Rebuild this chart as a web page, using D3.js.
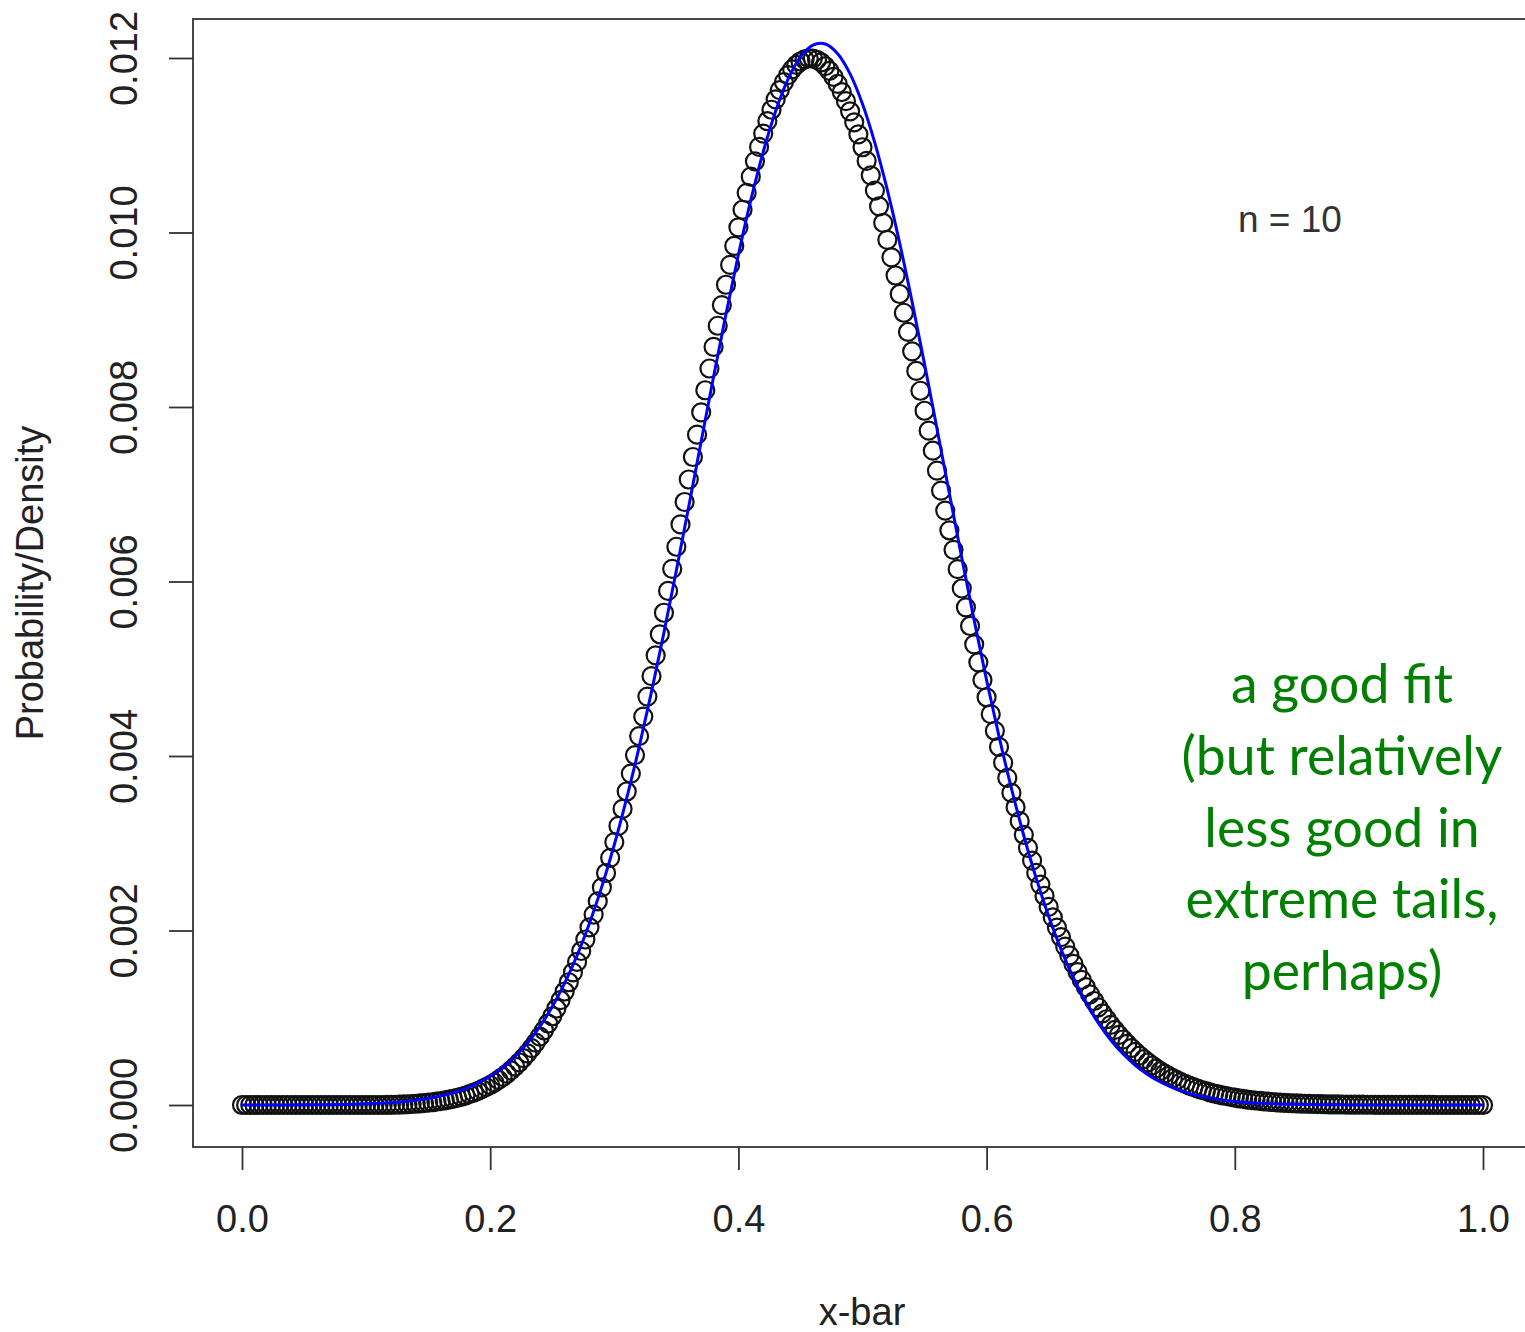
<!DOCTYPE html>
<html>
<head>
<meta charset="utf-8">
<script src="https://cdn.jsdelivr.net/npm/d3@7"></script>
<style>
  html, body { margin: 0; padding: 0; background: #ffffff; }
  svg { display: block; }
</style>
</head>
<body>
<svg id="chart" width="1525" height="1332"></svg>
<script>
// Axis ticks
const xTicks = [0, 0.2, 0.4, 0.6, 0.8, 1.0];
const yTicks = [0, 0.002, 0.004, 0.006, 0.008, 0.010, 0.012];

// Sample means of n = 10 take the values k / 300, k = 0..300
const sampleSize = 10;
const meanGridSteps = 300;

// Exact probability of each possible sample mean (one value per grid point)
const meanProbability = [
  0, 0, 0, 0, 0, 0, 0, 0, 0, 0,
  0, 0, 0, 0, 0, 0, 0, 0, 0, 0,
  0, 0, 0, 0, 0, 0, 0, 0, 0, 0,
  0, 0, 0, 0, 0, 0.0000008, 0.0000018, 0.0000031, 0.0000047, 0.0000065,
  0.0000087, 0.0000113, 0.0000143, 0.0000178, 0.0000218, 0.0000264, 0.0000317, 0.0000377, 0.0000444, 0.0000523,
  0.0000612, 0.0000711, 0.0000821, 0.0000942, 0.000108, 0.000124, 0.000141, 0.000160, 0.000181, 0.000204,
  0.000229, 0.000257, 0.000288, 0.000321, 0.000358, 0.000397, 0.000440, 0.000487, 0.000538, 0.000592,
  0.000651, 0.000715, 0.000783, 0.000856, 0.000934, 0.001017, 0.001106, 0.001201, 0.001301, 0.001407,
  0.001520, 0.001640, 0.001765, 0.001897, 0.002036, 0.002182, 0.002334, 0.002494, 0.002659, 0.002833,
  0.003013, 0.003199, 0.003393, 0.003593, 0.003798, 0.004011, 0.004228, 0.004452, 0.004681, 0.004915,
  0.005153, 0.005395, 0.005642, 0.005892, 0.006144, 0.006398, 0.006654, 0.006911, 0.007169, 0.007427,
  0.007683, 0.007939, 0.008192, 0.008441, 0.008689, 0.008931, 0.009168, 0.009401, 0.009628, 0.009846,
  0.010058, 0.010261, 0.010455, 0.010640, 0.010816, 0.010981, 0.011134, 0.011277, 0.011407, 0.011525,
  0.011631, 0.011723, 0.011803, 0.011869, 0.011921, 0.011960, 0.011985, 0.011997, 0.011994, 0.011979,
  0.011950, 0.011907, 0.011852, 0.011783, 0.011703, 0.011610, 0.011505, 0.011389, 0.011263, 0.011125,
  0.010977, 0.010821, 0.010655, 0.010481, 0.010300, 0.010111, 0.009916, 0.009714, 0.009507, 0.009295,
  0.009080, 0.008860, 0.008638, 0.008413, 0.008186, 0.007957, 0.007729, 0.007499, 0.007270, 0.007041,
  0.006813, 0.006587, 0.006363, 0.006141, 0.005920, 0.005704, 0.005490, 0.005280, 0.005074, 0.004871,
  0.004673, 0.004479, 0.004289, 0.004104, 0.003924, 0.003749, 0.003578, 0.003413, 0.003253, 0.003097,
  0.002947, 0.002801, 0.002661, 0.002526, 0.002396, 0.002270, 0.002150, 0.002033, 0.001923, 0.001816,
  0.001714, 0.001617, 0.001523, 0.001435, 0.001350, 0.001269, 0.001192, 0.001118, 0.001049, 0.000983,
  0.000919, 0.000860, 0.000804, 0.000751, 0.000700, 0.000653, 0.000608, 0.000565, 0.000526, 0.000489,
  0.000453, 0.000420, 0.000389, 0.000360, 0.000333, 0.000308, 0.000284, 0.000262, 0.000242, 0.000223,
  0.000205, 0.000188, 0.000172, 0.000158, 0.000145, 0.000132, 0.000121, 0.000111, 0.000101, 0.0000919,
  0.0000837, 0.0000761, 0.0000691, 0.0000627, 0.0000570, 0.0000515, 0.0000466, 0.0000422, 0.0000380, 0.0000342,
  0.0000309, 0.0000277, 0.0000249, 0.0000223, 0.0000202, 0.0000181, 0.0000162, 0.0000145, 0.0000130, 0.0000116,
  0.0000102, 0.0000093, 0.0000085, 0.0000077, 0.0000070, 0.0000063, 0.0000057, 0.0000051, 0.0000046, 0.0000041,
  0.0000037, 0.0000033, 0.0000029, 0.0000026, 0.0000023, 0.0000020, 0.0000018, 0.0000016, 0.0000014, 0.0000012,
  0.0000010, 0.0000008, 0.0000007, 0.0000006, 0.0000005, 0.0000004, 0.0000004, 0.0000003, 0.0000003, 0.0000002,
  0.0000002, 0.0000001, 0.0000001, 0.0000001, 0.0000001, 0.0000001, 0, 0, 0, 0,
  0
];

// Normal approximation, sampled at x = 0.00, 0.01, ..., 1.00 (scaled to the grid spacing)
const normalGridSteps = 100;
const normalApprox = [
  0.0000002, 0.0000003, 0.0000005, 0.0000008, 0.0000012, 0.0000018, 0.0000027, 0.0000041, 0.0000061, 0.0000090,
  0.0000131, 0.0000189, 0.0000271, 0.0000384, 0.0000538, 0.0000747, 0.0001026, 0.0001394, 0.0001876, 0.0002498,
  0.0003292, 0.000430, 0.000556, 0.000710, 0.000899, 0.001126, 0.001397, 0.001714, 0.002083, 0.002506,
  0.002983, 0.003517, 0.004102, 0.004737, 0.005414, 0.006126, 0.006860, 0.007605, 0.008346, 0.009064,
  0.009745, 0.010370, 0.010925, 0.011391, 0.011757, 0.012012, 0.012148, 0.012160, 0.012049, 0.011818,
  0.011473, 0.011025, 0.010488, 0.009875, 0.009204, 0.008491, 0.007754, 0.007009, 0.006271, 0.005554,
  0.004869, 0.004225, 0.003629, 0.003086, 0.002597, 0.002164, 0.001784, 0.001456, 0.001177, 0.000941,
  0.000745, 0.000584, 0.000453, 0.000348, 0.000264, 0.000199, 0.000148, 0.000109, 0.0000796, 0.0000574,
  0.0000411, 0.0000291, 0.0000204, 0.0000141, 0.0000097, 0.0000066, 0.0000044, 0.0000029, 0.0000019, 0.0000013,
  0.0000008, 0.0000005, 0.0000003, 0.0000002, 0.0000001, 0.0000001, 0, 0, 0, 0,
  0
];

// Annotation text
const noteLines = ["a good fit", "(but relatively", "less good in", "extreme tails,", "perhaps)"];
const axisTitleX = "x-bar";
const axisTitleY = "Probability/Density";

// ---- layout ----
const svg = d3.select("#chart");
const W = 1525, H = 1332;
const frame = { left: 193, top: 19, right: 1560, bottom: 1147 };
const axisFont = "'Liberation Sans', Arial, Helvetica, sans-serif";
const inkColor = "#222";

svg.append("rect").attr("width", W).attr("height", H).attr("fill", "#fff");

const x = d3.scaleLinear().domain([0, 1]).range([242, 1483]);
const y = d3.scaleLinear().domain([0, 0.012]).range([1105, 58]);

// plot box
svg.append("rect")
  .attr("x", frame.left).attr("y", frame.top)
  .attr("width", frame.right - frame.left).attr("height", frame.bottom - frame.top)
  .attr("fill", "none").attr("stroke", "#333").attr("stroke-width", 1.8);

// x axis
const gx = svg.append("g")
  .attr("transform", `translate(0,${frame.bottom})`)
  .call(d3.axisBottom(x).tickValues(xTicks).tickFormat(d3.format(".1f")).tickSize(23).tickSizeOuter(0));
gx.select(".domain").remove();
gx.attr("font-family", axisFont).attr("font-size", 38);
gx.selectAll(".tick line").attr("stroke", "#333").attr("stroke-width", 1.8);
gx.selectAll(".tick text").attr("y", 85).attr("dy", null).attr("fill", inkColor);

// y axis (labels parallel to the axis)
const gy = svg.append("g")
  .attr("transform", `translate(${frame.left},0)`)
  .call(d3.axisLeft(y).tickValues(yTicks).tickFormat(d3.format(".3f")).tickSize(24).tickSizeOuter(0));
gy.select(".domain").remove();
gy.attr("font-family", axisFont).attr("font-size", 38);
gy.selectAll(".tick line").attr("stroke", "#333").attr("stroke-width", 1.8);
gy.selectAll(".tick text")
  .attr("transform", "rotate(-90)")
  .attr("x", 0).attr("y", -56).attr("dy", null)
  .attr("text-anchor", "middle").attr("fill", inkColor);

// axis titles
svg.append("text")
  .attr("transform", `translate(43,583) rotate(-90)`)
  .attr("text-anchor", "middle")
  .attr("font-family", axisFont).attr("font-size", 38).attr("fill", inkColor)
  .text(axisTitleY);
svg.append("text")
  .attr("x", 862).attr("y", 1325)
  .attr("text-anchor", "middle")
  .attr("font-family", axisFont).attr("font-size", 38).attr("fill", inkColor)
  .text(axisTitleX);

// exact distribution of the sample mean: open circles
const meanPoints = meanProbability.map((p, k) => ({ xbar: k / meanGridSteps, p }));
svg.append("g")
  .selectAll("circle")
  .data(meanPoints)
  .join("circle")
  .attr("cx", d => x(d.xbar))
  .attr("cy", d => y(d.p))
  .attr("r", 9)
  .attr("fill", "none")
  .attr("stroke", "#111")
  .attr("stroke-width", 2.2);

// normal approximation: blue curve
const normalPoints = normalApprox.map((v, i) => ({ xbar: i / normalGridSteps, v }));
svg.append("path")
  .datum(normalPoints)
  .attr("fill", "none")
  .attr("stroke", "#0000ff")
  .attr("stroke-width", 3)
  .attr("stroke-linejoin", "round")
  .attr("d", d3.line().x(d => x(d.xbar)).y(d => y(d.v)).curve(d3.curveCatmullRom.alpha(0.5)));

// sample size label
svg.append("text")
  .attr("x", 1238).attr("y", 232)
  .attr("font-family", axisFont).attr("font-size", 37).attr("fill", "#333")
  .text(`n = ${sampleSize}`);

// green annotation, sized so its widest line spans ~321px
const note = svg.append("text")
  .attr("font-family", "Lato, 'Open Sans', sans-serif")
  .attr("font-size", 50)
  .attr("fill", "#008000")
  .attr("text-anchor", "middle");
const noteBaselines = [703, 775, 847, 918, 990];
note.selectAll("tspan")
  .data(noteLines)
  .join("tspan")
  .attr("x", 1342)
  .attr("y", (d, i) => noteBaselines[i])
  .text(d => d);
const widest = d3.max(note.selectAll("tspan").nodes(), n => n.getComputedTextLength());
if (widest > 0) note.attr("font-size", 50 * 321 / widest);
</script>
</body>
</html>
